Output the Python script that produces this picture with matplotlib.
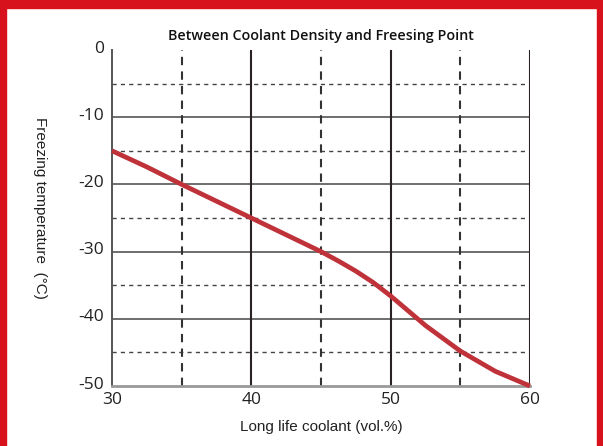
import matplotlib
matplotlib.use("Agg")
import matplotlib.pyplot as plt
import matplotlib.transforms as mtransforms
from matplotlib.patches import Rectangle

# Data
coolant_pct = [30, 32.5, 35, 37.5, 40, 42.5, 45, 46.25, 47.5, 48.75, 50, 52.5, 55, 57.5, 60]
freeze_temp = [-15, -17.4, -20, -22.5, -25, -27.5, -30, -31.4, -32.9, -34.6, -36.6, -41, -44.8, -47.8, -50]
x_ticks = [30, 40, 50, 60]
y_ticks = [0, -10, -20, -30, -40, -50]
x_minor = [35, 45, 55]
y_minor = [-5, -15, -25, -35, -45]
y_major_grid = [-10, -20, -30, -40]
x_major_grid = [40, 50, 60]

W, H = 603, 446
fig = plt.figure(figsize=(W / 100, H / 100), dpi=100)
fig.patch.set_facecolor("white")

red = "#D7121C"
fig.patches.append(Rectangle((0, 1 - 8 / H), 1, 8 / H, transform=fig.transFigure, color=red, zorder=0))
fig.patches.append(Rectangle((0, 0), 6 / W, 1, transform=fig.transFigure, color=red, zorder=0))
fig.patches.append(Rectangle((1 - 6 / W, 0), 6 / W, 1, transform=fig.transFigure, color=red, zorder=0))

ax = fig.add_axes([112 / W, 1 - 386 / H, (530 - 112) / W, (386 - 50) / H])
ax.set_xlim(30, 60)
ax.set_ylim(-50, 0)

for y in y_minor:
    ax.axhline(y, color="#444444", lw=1.0, ls=(0, (3, 3)), zorder=1)
for y in y_major_grid:
    ax.axhline(y, color="#555555", lw=1.2, zorder=1)
for x in x_minor:
    ax.axvline(x, color="#333333", lw=1.5, ls=(0, (4, 3)), zorder=1)
for x in x_major_grid:
    ax.axvline(x, color="#2a2222", lw=1.5, zorder=1)

ax.plot(coolant_pct, freeze_temp, color="#C0323A", lw=3.4, solid_capstyle="butt",
        solid_joinstyle="round", zorder=3, clip_on=False)

for s in ["top", "right"]:
    ax.spines[s].set_visible(False)
ax.spines["left"].set_color("#555555")
ax.spines["left"].set_linewidth(1.4)
ax.spines["bottom"].set_color("#999999")
ax.spines["bottom"].set_linewidth(2)

ax.set_xticks(x_ticks)
ax.set_yticks(y_ticks)
ax.set_xticklabels([str(v) for v in x_ticks], family="Open Sans", fontsize=12.5, color="#222222")
ax.set_yticklabels([str(v) for v in y_ticks], family="Open Sans", fontsize=12.5, color="#222222")
ax.tick_params(axis="y", length=0, pad=6)
ax.tick_params(axis="x", length=0, pad=4)
up = mtransforms.ScaledTranslation(0, 2.5 / 72, fig.dpi_scale_trans)
for lab in ax.get_yticklabels():
    lab.set_transform(lab.get_transform() + up)

ax.set_title("Between Coolant Density and Freesing Point", family="Open Sans", fontweight="semibold",
             fontsize=10.3, color="#111111", pad=7)
ax.set_xlabel("Long life coolant (vol.%)", family="Liberation Sans", fontsize=11, color="#222222", labelpad=9)
fig.text(40 / W, 1 - 208 / H, "Freezing temperature  (°C)", family="Liberation Sans", fontsize=11,
         color="#222222", rotation=270, ha="center", va="center")

fig.savefig("out.png", dpi=100)
